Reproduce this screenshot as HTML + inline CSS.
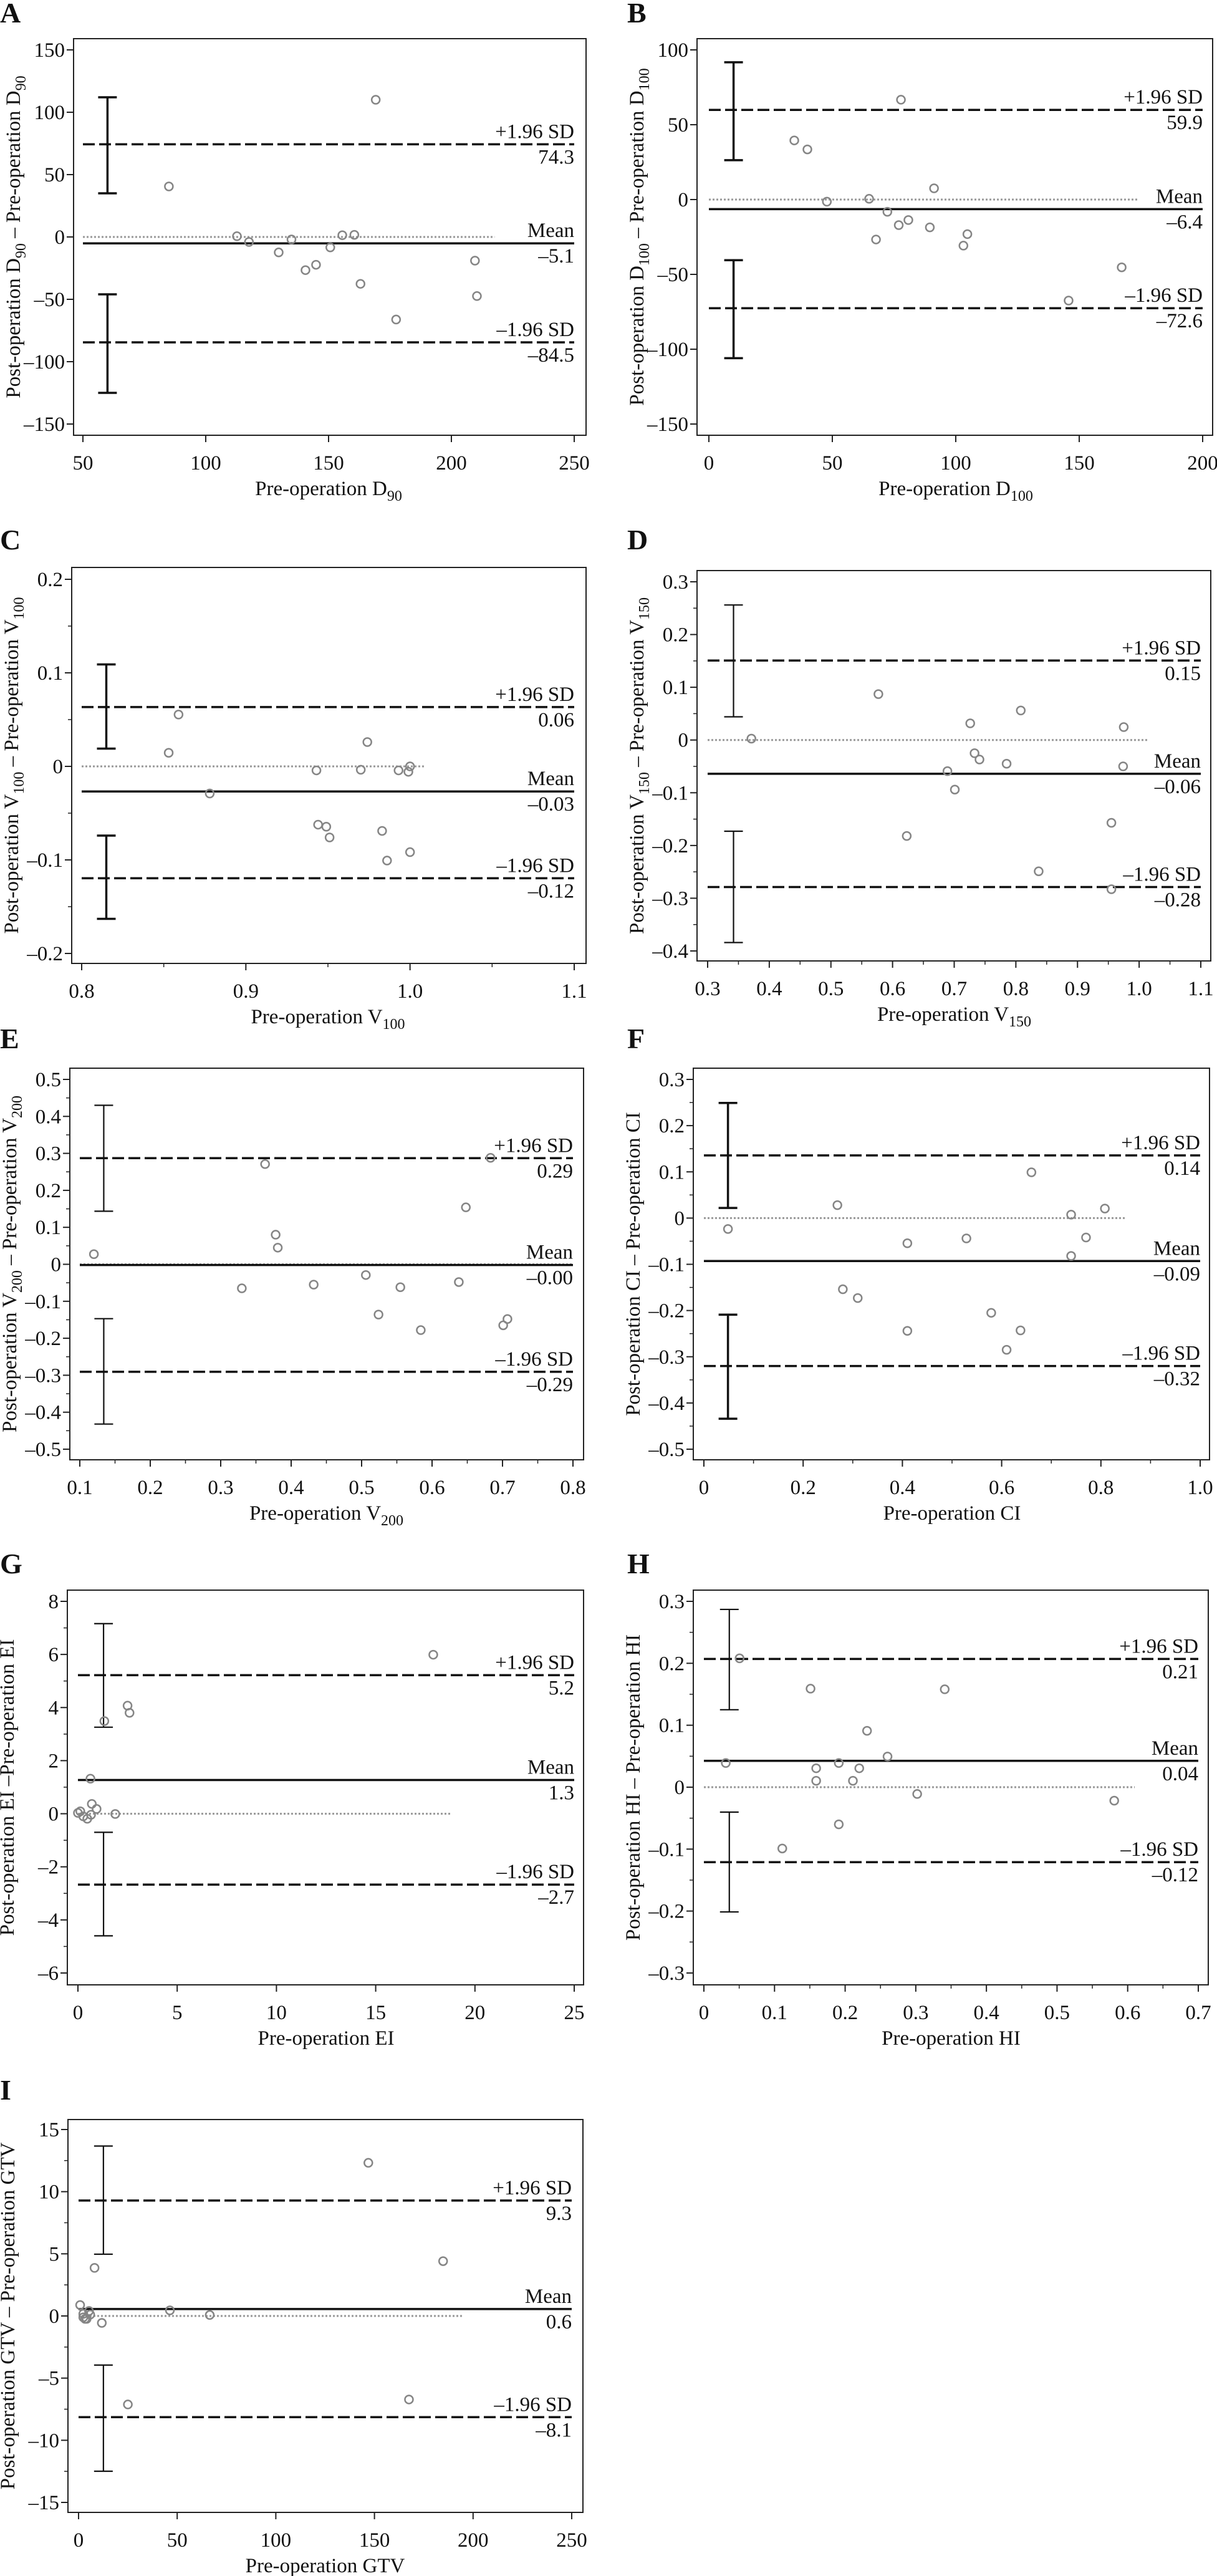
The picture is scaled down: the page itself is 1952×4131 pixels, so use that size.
<!DOCTYPE html>
<html><head><meta charset="utf-8"><style>
html,body{margin:0;padding:0;background:#fff;}
svg{display:block;font-family:"Liberation Serif",serif;}
</style></head><body>
<svg id="fig" xmlns="http://www.w3.org/2000/svg" width="1952" height="4131" viewBox="0 0 1952 4131"></svg>
<script>
// ---- Panel A data ----
const A_pre=[85,112.7,117.6,129.7,134.9,140.6,144.9,150.7,155.6,160.5,163,169.2,177.5,209.6,210.4];
const A_diff=[40.5,0.6,-4,-12.4,-2,-26.6,-22.3,-8.4,1.4,1.7,-37.6,110,-66.2,-19,-47.4];
const A_stats=[74.3,-5.1,-84.5];
const A_ci=[112,35,-46,-125];
const A_xticks=[50,100,150,200,250];
const A_yticks=[-150,-100,-50,0,50,100,150];
// ---- Panel B data ----
const B_pre=[34.6,39.9,47.8,64.9,67.7,72.3,76.9,77.8,80.8,89.5,91.2,103.1,104.7,145.7,167.2];
const B_diff=[39.5,33.5,-1.4,0.5,-26.7,-8.2,-17.1,66.7,-13.7,-18.6,7.5,-30.8,-23.1,-67.5,-45.3];
const B_stats=[59.9,-6.4,-72.6];
const B_ci=[91.7,26.3,-40.5,-106];
const B_xticks=[0,50,100,150,200];
const B_yticks=[-150,-100,-50,0,50,100];
// ---- Panel C data ----
const C_pre=[0.853,0.859,0.878,0.943,0.944,0.949,0.951,0.970,0.974,0.983,0.986,0.993,0.999,1.0,1.0];
const C_diff=[0.0145,0.0554,-0.029,-0.0043,-0.0623,-0.0645,-0.076,-0.0036,0.026,-0.069,-0.1007,-0.0043,-0.0058,0.0,-0.0917];
const C_stats=[0.0634,-0.0268,-0.1196];
const C_ci=[0.109,0.019,-0.074,-0.163];
const C_xticks=[0.8,0.9,1.0,1.1];
const C_xlabels=["0.8","0.9","1.0","1.1"];
const C_yticks=[-0.2,-0.1,0,0.1,0.2];
const C_ylabels=["-0.2","-0.1","0","0.1","0.2"];
// ---- Panel D data ----
const D_pre=[0.371,0.577,0.623,0.689,0.701,0.726,0.733,0.741,0.785,0.808,0.837,0.955,0.955,0.974,0.975];
const D_diff=[0.0026,0.087,-0.182,-0.059,-0.094,0.0316,-0.025,-0.037,-0.045,0.056,-0.249,-0.157,-0.283,-0.050,0.0245];
const D_stats=[0.1507,-0.064,-0.2788];
const D_ci=[0.256,0.044,-0.173,-0.384];
const D_xticks=[0.3,0.4,0.5,0.6,0.7,0.8,0.9,1.0,1.1];
const D_xlabels=["0.3","0.4","0.5","0.6","0.7","0.8","0.9","1.0","1.1"];
const D_yticks=[-0.4,-0.3,-0.2,-0.1,0,0.1,0.2,0.3];
const D_ylabels=["-0.4","-0.3","-0.2","-0.1","0","0.1","0.2","0.3"];
// ---- Panel E data ----
const E_pre=[0.120,0.330,0.363,0.378,0.381,0.432,0.506,0.524,0.555,0.584,0.638,0.648,0.683,0.701,0.707];
const E_diff=[0.0274,-0.065,0.271,0.080,0.045,-0.055,-0.029,-0.136,-0.062,-0.178,-0.048,0.154,0.288,-0.165,-0.148];
const E_stats=[0.287,-0.002,-0.2907];
const E_ci=[0.43,0.1435,-0.147,-0.432];
const E_xticks=[0.1,0.2,0.3,0.4,0.5,0.6,0.7,0.8];
const E_xlabels=["0.1","0.2","0.3","0.4","0.5","0.6","0.7","0.8"];
const E_yticks=[-0.5,-0.4,-0.3,-0.2,-0.1,0,0.1,0.2,0.3,0.4,0.5];
const E_ylabels=["-0.5","-0.4","-0.3","-0.2","-0.1","0","0.1","0.2","0.3","0.4","0.5"];
// ---- Panel F data ----
const F_pre=[0.0485,0.269,0.280,0.310,0.410,0.410,0.529,0.579,0.610,0.638,0.660,0.740,0.740,0.770,0.808];
const F_diff=[-0.0236,0.028,-0.154,-0.173,-0.0545,-0.244,-0.044,-0.205,-0.285,-0.243,0.099,0.0074,-0.082,-0.042,0.0206];
const F_stats=[0.1356,-0.093,-0.32];
const F_ci=[0.249,0.022,-0.209,-0.434];
const F_xticks=[0,0.2,0.4,0.6,0.8,1.0];
const F_xlabels=["0","0.2","0.4","0.6","0.8","1.0"];
const F_yticks=[-0.5,-0.4,-0.3,-0.2,-0.1,0,0.1,0.2,0.3];
const F_ylabels=["-0.5","-0.4","-0.3","-0.2","-0.1","0","0.1","0.2","0.3"];
// ---- Panel G data ----
const G_pre=[0,0.12,0.27,0.47,0.63,0.66,0.7,0.94,1.33,1.88,2.5,2.6,17.9];
const G_diff=[0.03,0.09,-0.1,-0.19,1.32,-0.04,0.37,0.18,3.49,-0.01,4.07,3.8,5.99];
const G_stats=[5.22,1.27,-2.67];
const G_ci=[7.16,3.26,-0.7,-4.6];
const G_xticks=[0,5,10,15,20,25];
const G_yticks=[-6,-4,-2,0,2,4,6,8];
// ---- Panel H data ----
const H_pre=[0.031,0.0505,0.111,0.151,0.159,0.159,0.191,0.191,0.211,0.22,0.231,0.26,0.302,0.341,0.581];
const H_diff=[0.039,0.208,-0.099,0.159,0.0305,0.0103,0.039,-0.06,0.0103,0.0305,0.091,0.0495,-0.011,0.158,-0.0218];
const H_stats=[0.207,0.0425,-0.121];
const H_ci=[0.287,0.125,-0.0403,-0.2014];
const H_xticks=[0,0.1,0.2,0.3,0.4,0.5,0.6,0.7];
const H_xlabels=["0","0.1","0.2","0.3","0.4","0.5","0.6","0.7"];
const H_yticks=[-0.3,-0.2,-0.1,0,0.1,0.2,0.3];
const H_ylabels=["-0.3","-0.2","-0.1","0","0.1","0.2","0.3"];
// ---- Panel I data ----
const I_pre=[0.8,2.4,2.4,3.3,4.1,5.3,5.9,8.1,11.8,25,46.3,66.5,146.9,167.5,184.8];
const I_diff=[0.88,0.17,-0.11,-0.23,-0.23,0.4,0.11,3.87,-0.56,-7.12,0.45,0.08,12.32,-6.72,4.41];
const I_stats=[9.29,0.56,-8.14];
const I_ci=[13.67,4.97,-3.95,-12.49];
const I_xticks=[0,50,100,150,200,250];
const I_yticks=[-15,-10,-5,0,5,10,15];

const NS="http://www.w3.org/2000/svg";
const svg=document.getElementById('fig');
function mk(tag,attrs,parent){const e=document.createElementNS(NS,tag);for(const k in attrs)e.setAttribute(k,attrs[k]);(parent||svg).appendChild(e);return e;}
function dash(s){return String(s).replace(/-/g,'\u2013');}
function fmt(v,d){return dash(v.toFixed(d));}
function richText(g,parts,attrs){
  const t=mk('text',attrs,g);
  let sub=false;
  parts.forEach(p=>{
    const ts=mk('tspan',{},t);
    if(p[1]){ts.setAttribute('dy','9');ts.setAttribute('font-size','24');sub=true;}
    else if(sub){ts.setAttribute('dy','-9');sub=false;}
    ts.textContent=p[0];
  });
  return t;
}

const panels=[
 {id:'a',letter:'A',lx:0,ly:36,L:118,R:940,T:62,B:698,x0:50,x1:250,px0:133,px1:921,y0:150,y1:-150,py0:80,py1:680,
  pre:A_pre,diff:A_diff,stats:A_stats,ci:A_ci,barX:60,thick:true,xt:A_xticks,yt:A_yticks,dec:1,zeroEnd:217.6,
  xtitle:[['Pre-operation D'],['90',1]],ytitle:[['Post-operation D'],['90',1],[' \u2013 Pre-operation D'],['90',1]]},
 {id:'b',letter:'B',lx:1006,ly:36,L:1118,R:1945,T:62,B:698,x0:0,x1:200,px0:1137,px1:1929,y0:100,y1:-150,py0:80,py1:680,
  pre:B_pre,diff:B_diff,stats:B_stats,ci:B_ci,barX:10,thick:true,xt:B_xticks,yt:B_yticks,dec:1,zeroEnd:174,
  xtitle:[['Pre-operation D'],['100',1]],ytitle:[['Post-operation D'],['100',1],[' \u2013 Pre-operation D'],['100',1]]},
 {id:'c',letter:'C',lx:0,ly:881,L:115,R:940,T:910,B:1545,x0:0.8,x1:1.1,px0:131,px1:921,y0:0.2,y1:-0.2,py0:929,py1:1529,
  pre:C_pre,diff:C_diff,stats:C_stats,ci:C_ci,barX:0.815,thick:true,xt:C_xticks,xl:C_xlabels,yt:C_yticks,yl:C_ylabels,dec:2,zeroEnd:1.009,
  xminor:0.05,yminor:0.05,
  xtitle:[['Pre-operation V'],['100',1]],ytitle:[['Post-operation V'],['100',1],[' \u2013 Pre-operation V'],['100',1]]},
 {id:'d',letter:'D',lx:1006,ly:881,L:1118,R:1942,T:915,B:1541,x0:0.3,x1:1.1,px0:1135,px1:1926,y0:0.3,y1:-0.4,py0:933,py1:1525,
  pre:D_pre,diff:D_diff,stats:D_stats,ci:D_ci,barX:0.342,thick:false,xt:D_xticks,xl:D_xlabels,yt:D_yticks,yl:D_ylabels,dec:2,zeroEnd:1.013,
  xminor:0.05,yminor:0.05,
  xtitle:[['Pre-operation V'],['150',1]],ytitle:[['Post-operation V'],['150',1],[' \u2013 Pre-operation V'],['150',1]]},
 {id:'e',letter:'E',lx:0,ly:1681,L:112,R:936,T:1713,B:2341,x0:0.1,x1:0.8,px0:128,px1:919,y0:0.5,y1:-0.5,py0:1731,py1:2324,
  pre:E_pre,diff:E_diff,stats:E_stats,ci:E_ci,barX:0.134,thick:false,xt:E_xticks,xl:E_xlabels,yt:E_yticks,yl:E_ylabels,dec:2,zeroEnd:0.8,
  xminor:0.05,yminor:0.05,
  xtitle:[['Pre-operation V'],['200',1]],ytitle:[['Post-operation V'],['200',1],[' \u2013 Pre-operation V'],['200',1]]},
 {id:'f',letter:'F',lx:1006,ly:1681,L:1112,R:1940,T:1713,B:2341,x0:0,x1:1.0,px0:1129,px1:1925,y0:0.3,y1:-0.5,py0:1731,py1:2324,
  pre:F_pre,diff:F_diff,stats:F_stats,ci:F_ci,barX:0.0485,thick:true,xt:F_xticks,xl:F_xlabels,yt:F_yticks,yl:F_ylabels,dec:2,zeroEnd:0.85,
  xminor:0.1,yminor:0.05,
  xtitle:[['Pre-operation CI']],ytitle:[['Post-operation CI \u2013 Pre-operation CI']]},
 {id:'g',letter:'G',lx:0,ly:2523,L:108,R:936,T:2550,B:3183,x0:0,x1:25,px0:125,px1:921,y0:8,y1:-6,py0:2568,py1:3164,
  pre:G_pre,diff:G_diff,stats:G_stats,ci:G_ci,barX:1.29,thick:false,xt:G_xticks,yt:G_yticks,dec:1,zeroEnd:18.8,
  yminor:1,
  xtitle:[['Pre-operation EI']],ytitle:[['Post-operation EI \u2013Pre-operation EI']]},
 {id:'h',letter:'H',lx:1006,ly:2523,L:1112,R:1938,T:2550,B:3183,x0:0,x1:0.7,px0:1129,px1:1922,y0:0.3,y1:-0.3,py0:2568,py1:3164,
  pre:H_pre,diff:H_diff,stats:H_stats,ci:H_ci,barX:0.036,thick:false,xt:H_xticks,xl:H_xlabels,yt:H_yticks,yl:H_ylabels,dec:2,zeroEnd:0.61,
  xminor:0.05,yminor:0.05,
  xtitle:[['Pre-operation HI']],ytitle:[['Post-operation HI \u2013 Pre-operation HI']]},
 {id:'i',letter:'I',lx:0,ly:3367,L:109,R:935,T:3399,B:4029,x0:0,x1:250,px0:126,px1:917,y0:15,y1:-15,py0:3415,py1:4013,
  pre:I_pre,diff:I_diff,stats:I_stats,ci:I_ci,barX:12.6,thick:false,xt:I_xticks,yt:I_yticks,dec:1,zeroEnd:195,
  yminor:2.5,
  xtitle:[['Pre-operation GTV']],ytitle:[['Post-operation GTV \u2013 Pre-operation GTV']]}
];

panels.forEach(p=>{
  const g=mk('g',{});
  
  
  const sx=v=>p.px0+(v-p.x0)*(p.px1-p.px0)/(p.x1-p.x0);
  const sy=v=>p.py0+(v-p.y0)*(p.py1-p.py0)/(p.y1-p.y0);
  const lt=mk('text',{x:p.lx,y:p.ly,'font-size':46,'font-weight':'bold',fill:'#111'},g);
  
  
  lt.textContent=p.letter;
  const fr=mk('rect',{x:p.L,y:p.T,width:p.R-p.L,height:p.B-p.T,fill:'none',stroke:'#222','stroke-width':2},g);
  
  
  if(p.xminor){const n=Math.round((p.x1-p.x0)/p.xminor);for(let i=0;i<=n;i++){const x=sx(p.x0+i*p.xminor);mk('line',{x1:x,x2:x,y1:p.B,y2:p.B+6,stroke:'#222','stroke-width':1.5},g);}}
  if(p.yminor){const lo=Math.min(p.y0,p.y1),hi=Math.max(p.y0,p.y1);const n=Math.round((hi-lo)/p.yminor);for(let i=0;i<=n;i++){const y=sy(lo+i*p.yminor);mk('line',{x1:p.L-6,x2:p.L,y1:y,y2:y,stroke:'#222','stroke-width':1.5},g);}}
  p.xt.forEach((v,i)=>{
    const x=sx(v);
    mk('line',{x1:x,x2:x,y1:p.B,y2:p.B+11,stroke:'#222','stroke-width':2},g);
    const t=mk('text',{x:x,y:p.B+55,'font-size':33,'text-anchor':'middle',fill:'#111'},g);
    
    
    t.textContent=dash(p.xl?p.xl[i]:v);
  });
  p.yt.forEach((v,i)=>{
    const y=sy(v);
    mk('line',{x1:p.L-11,x2:p.L,y1:y,y2:y,stroke:'#222','stroke-width':2},g);
    const t=mk('text',{x:p.L-14,y:y+11,'font-size':33,'text-anchor':'end',fill:'#111'},g);
    
    
    t.textContent=dash(p.yl?p.yl[i]:v);
  });
  const xt=richText(g,p.xtitle,{x:(p.px0+p.px1)/2,y:p.B+96,'font-size':33,'text-anchor':'middle',fill:'#111'});
  
  
  const cy=(p.T+p.B)/2, tx=p.L-86;
  const yt=richText(g,p.ytitle,{x:tx,y:cy,'font-size':33,'text-anchor':'middle',fill:'#111',transform:'rotate(-90 '+tx+' '+cy+')'});
  
  
  const z=mk('line',{x1:sx(p.x0),x2:sx(p.zeroEnd),y1:sy(0),y2:sy(0),stroke:'#999','stroke-width':3,'stroke-dasharray':'3 3'},g);
  
  
  const names=['upper-limit-line','mean-line','lower-limit-line'];
  const heads=['+1.96 SD','Mean','\u20131.96 SD'];
  p.stats.forEach((v,i)=>{
    const y=sy(v);
    const l=mk('line',{x1:sx(p.x0),x2:sx(p.x1),y1:y,y2:y,stroke:'#111','stroke-width':3.5},g);
    if(i!==1)l.setAttribute('stroke-dasharray','19 7');
    
    
    const h=mk('text',{x:sx(p.x1),y:y-10,'font-size':33,'text-anchor':'end',fill:'#111'},g);
    
    
    h.textContent=heads[i];
    const vt=mk('text',{x:sx(p.x1),y:y+31,'font-size':33,'text-anchor':'end',fill:'#111'},g);
    
    
    vt.textContent=fmt(v,p.dec);
  });
  const bx=sx(p.barX), sw=p.thick?3.5:2.2;
  [[p.ci[0],p.ci[1]],[p.ci[2],p.ci[3]]].forEach((c,k)=>{
    const eb=mk('g',{stroke:'#111','stroke-width':sw},g);
    
    
    mk('line',{x1:bx,x2:bx,y1:sy(c[0]),y2:sy(c[1])},eb);
    mk('line',{x1:bx-15,x2:bx+15,y1:sy(c[0]),y2:sy(c[0])},eb);
    mk('line',{x1:bx-15,x2:bx+15,y1:sy(c[1]),y2:sy(c[1])},eb);
  });
  p.pre.forEach((v,i)=>{
    const c=mk('circle',{cx:sx(v),cy:sy(p.diff[i]),r:6.5,fill:'none',stroke:'#858585','stroke-width':2.5},g);
    
    
  });
});
</script>
</body></html>
